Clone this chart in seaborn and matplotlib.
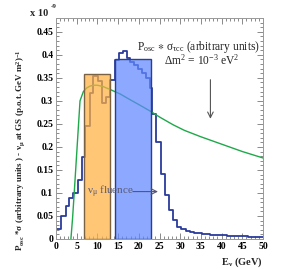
import numpy as np
import pandas as pd
import seaborn as sns
import matplotlib
matplotlib.use("Agg")
import matplotlib.pyplot as plt
from matplotlib.ticker import MultipleLocator

# ---------------- data ----------------
# nu_mu fluence histogram (x 1e-9), bin edges in GeV
bin_edges = [0, 1.2, 2.3, 3.2, 4.2, 5.2, 6.2, 7.0, 8.1, 9.0, 10.1, 11.0, 12.1, 13.0,
             14.2, 15.3, 16.3, 17.1, 17.9, 18.8, 19.9, 20.8, 21.7, 22.7, 23.1, 24.2,
             25.3, 26.3, 27.3, 28.3, 29.3, 30.3, 31.3, 32.3, 33.3, 34.3, 35.3, 36.3,
             37.3, 38.3, 39.3, 40.3, 41.3, 42.3, 43.3, 44.3, 45.3, 46.3, 47.3, 48.3,
             49.3, 50.0]
fluence = [0.022, 0.051, 0.072, 0.088, 0.099, 0.128, 0.178, 0.245, 0.317, 0.354,
           0.344, 0.296, 0.308, 0.345, 0.389, 0.404, 0.409, 0.393, 0.385, 0.378,
           0.369, 0.360, 0.349, 0.328, 0.272, 0.210, 0.141, 0.096, 0.063, 0.041,
           0.027, 0.021, 0.018, 0.015, 0.013, 0.012, 0.011, 0.010, 0.009, 0.009,
           0.008, 0.008, 0.007, 0.007, 0.006, 0.006, 0.006, 0.005, 0.005, 0.005,
           0.005]

# P_osc * sigma_tau CC curve (arbitrary units)
posc_E = [3.6, 4.0, 4.4, 5.1, 5.8, 6.6, 7.4, 8.2, 9.0, 10.0, 11.4, 13.0, 15.5, 18.0,
          20.0, 22.9, 25.0, 28.3, 31.0, 35.0, 40.0, 45.0, 50.0]
posc_y = [0.0, 0.045, 0.100, 0.200, 0.300, 0.320, 0.328, 0.332, 0.334, 0.334,
          0.331, 0.325, 0.315, 0.302, 0.292, 0.277, 0.265, 0.248, 0.236, 0.222,
          0.206, 0.190, 0.176]

# energy windows (GeV) and heights
window_lo = [6.8, 14.3]
window_hi = [13.0, 22.9]
window_top = [0.358, 0.391]
window_fill = ["#ffb040", "#6088ff"]
window_edge = ["#7a6242", "#2b3f8f"]

# ---------------- style ----------------
sns.set_style("ticks")
plt.rcParams["font.family"] = ["Liberation Serif", "DejaVu Serif"]
plt.rcParams["mathtext.fontset"] = "custom"
plt.rcParams["mathtext.rm"] = "Liberation Serif"
plt.rcParams["mathtext.it"] = "Liberation Serif:italic"
plt.rcParams["mathtext.bf"] = "Liberation Serif:bold"
plt.rcParams["mathtext.default"] = "regular"

fig = plt.figure(figsize=(2.87, 2.69), dpi=100)
ax = fig.add_axes([56 / 287, 1 - 239 / 269, (263 - 56) / 287, (239 - 18) / 269])

centers = [(a + b) / 2 for a, b in zip(bin_edges[:-1], bin_edges[1:])]
hist_df = pd.DataFrame({"E": centers, "w": fluence})
sns.histplot(data=hist_df, x="E", weights="w", bins=bin_edges, element="step",
             fill=False, color="#2b3b9c", linewidth=1.3, ax=ax, zorder=2)

curve_df = pd.DataFrame({"E": posc_E, "y": posc_y})
sns.lineplot(data=curve_df, x="E", y="y", color="#1fa84a", linewidth=1.0,
             ax=ax, zorder=3)

for lo, hi, top, fc, ec in zip(window_lo, window_hi, window_top, window_fill, window_edge):
    ax.bar(lo, top, width=hi - lo, align="edge", facecolor=fc, alpha=0.72,
           edgecolor="none", zorder=4)
    ax.bar(lo, top, width=hi - lo, align="edge", facecolor="none",
           edgecolor=ec, linewidth=1.0, zorder=5)

ax.set_xlim(0, 50)
ax.set_ylim(0, 0.48)
ax.xaxis.set_minor_locator(MultipleLocator(1))
ax.yaxis.set_minor_locator(MultipleLocator(0.01))
ax.set_xticks(np.arange(0, 51, 5))
ax.set_xticklabels([str(v) for v in range(0, 51, 5)])
yt = np.round(np.arange(0, 0.46, 0.05), 2)
ax.set_yticks(yt)
ax.set_yticklabels(["0"] + [("%.2f" % v).rstrip("0") for v in yt[1:]])
ax.tick_params(which="both", direction="in", top=True, right=True,
               colors="#777777", labelcolor="black", width=0.6)
ax.tick_params(which="major", length=4, labelsize=7, pad=2)
ax.tick_params(which="minor", length=2)
for lab in ax.get_xticklabels() + ax.get_yticklabels():
    lab.set_fontweight("bold")
for s in ax.spines.values():
    s.set_color("#999999")
    s.set_linewidth(0.7)
ax.set_xlabel("")
ax.set_ylabel("")

# axis titles
ax.text(1.0, -0.075, r"E$_\nu$ (GeV)", transform=ax.transAxes, ha="right",
        va="top", fontsize=7.5, fontweight="bold")
fig.text(21 / 287, 1 - 150 / 269,
         r"P$_{osc}$ *$\sigma$ (arbitrary units ) - $\nu_\mu$ at GS (p.o.t. GeV m$^2$)$^{-1}$",
         rotation=90, ha="center", va="center", fontsize=6.5, fontweight="bold")
fig.text(30 / 287, 1 - 14 / 269, "x 10", ha="left", va="center",
         fontsize=7.5, fontweight="bold")
fig.text(51 / 287, 1 - 6 / 269, "-9", ha="left", va="center",
         fontsize=5, fontweight="bold")

# annotations
ax.text(34.4, 0.418, r"P$_{osc}$ $\ast$ $\sigma_{\tau cc}$ (arbitrary units)",
        ha="center", va="center", fontsize=8.3, color="#222222", zorder=6)
ax.text(35.3, 0.388, r"$\Delta$m$^2$ = 10$^{-3}$ eV$^2$",
        ha="center", va="center", fontsize=8.3, color="#222222", zorder=6)
ax.annotate("", xy=(37.3, 0.255), xytext=(37.3, 0.352),
            arrowprops=dict(arrowstyle="->", color="#555555", lw=0.8), zorder=6)
ax.text(7.4, 0.103, r"$\nu_\mu$ fluence", ha="left", va="center",
        fontsize=8, color="#5a5a78", zorder=6)
ax.annotate("", xy=(25.3, 0.103), xytext=(17.9, 0.103),
            arrowprops=dict(arrowstyle="->", color="#555577", lw=0.8), zorder=6)

fig.savefig("out.png", dpi=100)
